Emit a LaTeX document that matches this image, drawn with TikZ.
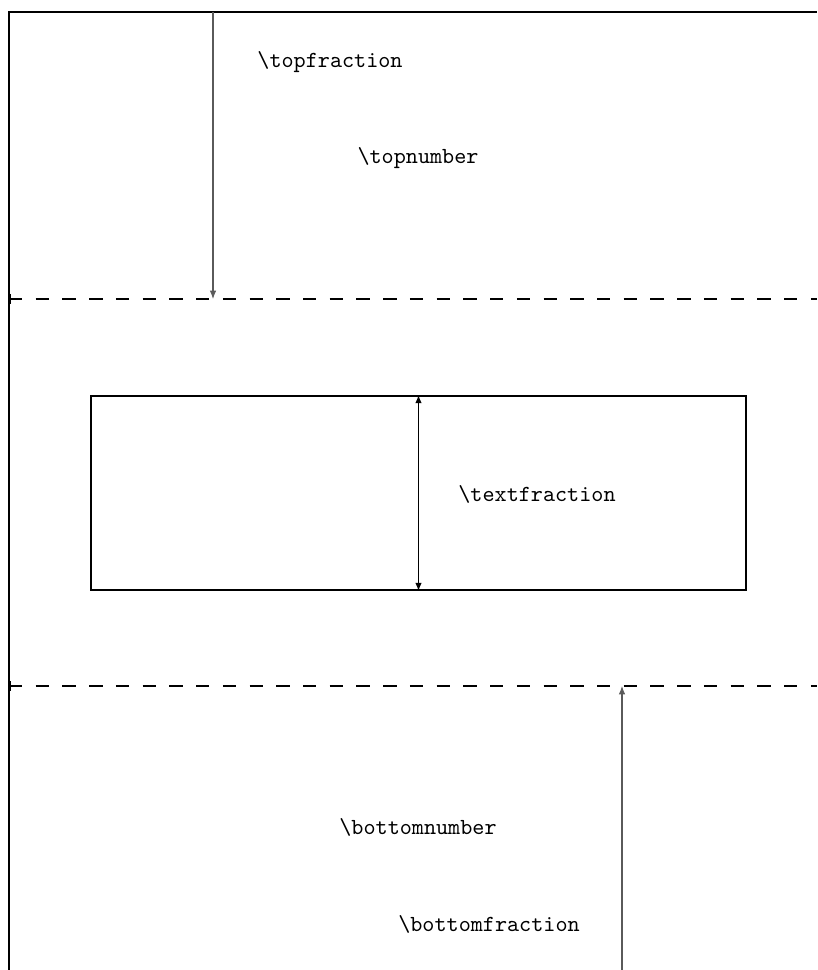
\documentclass[tikz,border=0pt]{standalone}
\usetikzlibrary{arrows.meta}

\tikzset{every picture/.style={line width=0.9pt}}
\tikzset{
  pageline/.style={line width=1.2pt},
  sepline/.style={line width=1.1pt, dash pattern=on 5.8pt off 5.8pt},
  fracarrow/.style={line width=0.45pt, draw={rgb, 255:red, 90; green, 90; blue, 90}, -{Latex[length=3.6pt,width=2.8pt]}},
  boxarrow/.style={line width=0.5pt, {Latex[length=3.6pt,width=2.8pt]}-{Latex[length=3.6pt,width=2.8pt]}},
  param/.style={font=\ttfamily, inner sep=0.75pt}
}

\begin{document}
\begin{tikzpicture}[x=0.434pt,y=0.434pt,yscale=-1,xscale=1]
\useasboundingbox (0,0) rectangle (817,970);

%Page corner
\coordinate (pageTL) at (9,12);
\coordinate (pageTR) at (817,12);
\coordinate (pageBL) at (9,970);
\draw [pageline]  (pageBL) -- (pageTL) -- (pageTR) ;

%Separators
\coordinate (topSepL) at (9,299);
\coordinate (topSepR) at (817,299);
\coordinate (botSepL) at (9,686);
\coordinate (botSepR) at (817,686);
\draw [sepline]  (topSepL) -- (topSepR) ;
\draw [sepline]  (botSepL) -- (botSepR) ;
\draw [line width=1.1pt]  (10,294) -- (10,304) ;
\draw [line width=1.1pt]  (10,681) -- (10,691) ;

%Text box
\node [draw, line width=1pt, minimum width=655*0.434pt, minimum height=194*0.434pt, inner sep=0pt] (textBox) at (418.5,493) {};

%Arrows
\coordinate (tfStart) at (213,12);
\coordinate (tfEnd) at (213,299);
\draw [fracarrow]  (tfStart) -- (tfEnd) ;
\coordinate (bfStart) at (622,970);
\coordinate (bfEnd) at (622,686);
\draw [fracarrow]  (bfStart) -- (bfEnd) ;
\draw [boxarrow]  (textBox.north) -- (textBox.south) ;

% Text Node
\node [param] (topfrac) at (330,62) {\textbackslash topfraction};
% Text Node
\node [param] (topnum) at (418,158) {\textbackslash topnumber};
% Text Node
\node [param] (textfrac) at (537,494) {\textbackslash textfraction};
% Text Node
\node [param] (botnum) at (418,827) {\textbackslash bottomnumber};
% Text Node
\node [param] (botfrac) at (489,924) {\textbackslash bottomfraction};

\end{tikzpicture}
\end{document}
